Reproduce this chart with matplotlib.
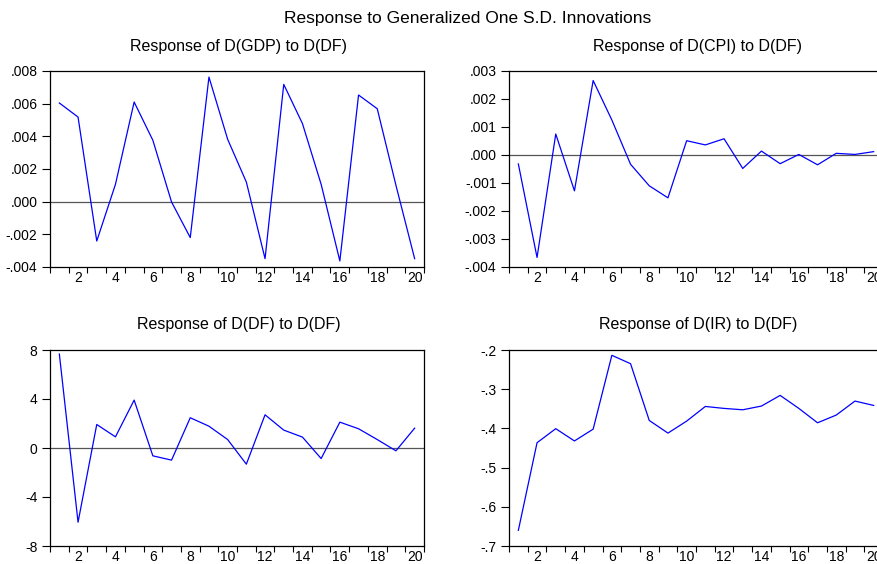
import matplotlib
matplotlib.use("Agg")
import matplotlib.pyplot as plt
from matplotlib.ticker import FixedLocator
import numpy as np

plt.rcParams['font.family'] = ['Liberation Sans', 'DejaVu Sans']

periods = list(range(1, 21))

gdp = [0.00604, 0.00518, -0.00241, 0.00106, 0.00610, 0.00376, -0.00002, -0.00220,
       0.00763, 0.00382, 0.00120, -0.00349, 0.00718, 0.00478, 0.00106, -0.00363,
       0.00653, 0.00569, 0.00100, -0.00349]
cpi = [-0.00032, -0.00366, 0.00075, -0.00128, 0.00266, 0.00125, -0.00033, -0.00110,
       -0.00153, 0.00051, 0.00036, 0.00058, -0.00048, 0.00014, -0.00031, 0.00002,
       -0.00035, 0.00006, 0.00002, 0.00012]
df = [7.67, -6.06, 1.92, 0.91, 3.91, -0.64, -0.99, 2.47, 1.78, 0.69, -1.32, 2.71,
      1.46, 0.89, -0.86, 2.11, 1.57, 0.69, -0.23, 1.62]
ir = [-0.660, -0.4365, -0.4007, -0.432, -0.4019, -0.2136, -0.2349, -0.3797, -0.412,
      -0.3814, -0.344, -0.349, -0.3525, -0.343, -0.3158, -0.349, -0.3857, -0.366,
      -0.3303, -0.3414]

main_title = "Response to Generalized One S.D. Innovations"
titles = ["Response of D(GDP) to D(DF)", "Response of D(CPI) to D(DF)",
          "Response of D(DF) to D(DF)", "Response of D(IR) to D(DF)"]
yticks_list = [[-0.004, -0.002, 0.000, 0.002, 0.004, 0.006, 0.008],
               [-0.004, -0.003, -0.002, -0.001, 0.000, 0.001, 0.002, 0.003],
               [-8, -4, 0, 4, 8],
               [-0.7, -0.6, -0.5, -0.4, -0.3, -0.2]]
ytick_labels = [["-.004", "-.002", ".000", ".002", ".004", ".006", ".008"],
                ["-.004", "-.003", "-.002", "-.001", ".000", ".001", ".002", ".003"],
                ["-8", "-4", "0", "4", "8"],
                ["-.7", "-.6", "-.5", "-.4", "-.3", "-.2"]]
xtick_vals = list(range(2, 21, 2))
xtick_labels = [str(v) for v in xtick_vals]
series = [gdp, cpi, df, ir]
zero_line = [True, True, True, False]

W, H = 878, 564
fig = plt.figure(figsize=(W / 100, H / 100), dpi=100)

# axes boxes in pixels: left, top, right, bottom
boxes = [(50, 71, 424, 267), (509, 71, 883, 267),
         (50, 350, 424, 546), (509, 350, 883, 546)]
title_y = [46, 46, 325, 325]

fig.text(468 / W, 1 - 18 / H, main_title, ha='center', va='center', fontsize=12.5)

for i, (l, t, r, b) in enumerate(boxes):
    ax = fig.add_axes([l / W, 1 - b / H, (r - l) / W, (b - t) / H])
    ax.plot(periods, series[i], color='#0000ff', lw=0.9)
    if zero_line[i]:
        ax.axhline(0, color='#555555', lw=0.9, zorder=1)
    ax.set_xlim(0.5, 20.5)
    yt = yticks_list[i]
    ax.set_ylim(yt[0], yt[-1])
    ax.set_yticks(yt)
    ax.set_yticklabels(ytick_labels[i])
    ax.set_xticks(xtick_vals)
    ax.set_xticklabels(xtick_labels)
    ax.xaxis.set_minor_locator(FixedLocator(np.arange(0.5, 21, 1.0)))
    ax.tick_params(axis='x', which='major', length=0, pad=3, labelsize=10)
    ax.tick_params(axis='x', which='minor', length=4, width=0.8, direction='out')
    ax.tick_params(axis='y', which='major', length=6, width=0.8, direction='out',
                   labelsize=10, pad=3)
    for s in ax.spines.values():
        s.set_linewidth(0.9)
        s.set_color('black')
    fig.text(((l + r) / 2 + 2) / W, 1 - title_y[i] / H, titles[i],
             ha='center', va='center', fontsize=11.5)

fig.savefig("out.png", dpi=100)
